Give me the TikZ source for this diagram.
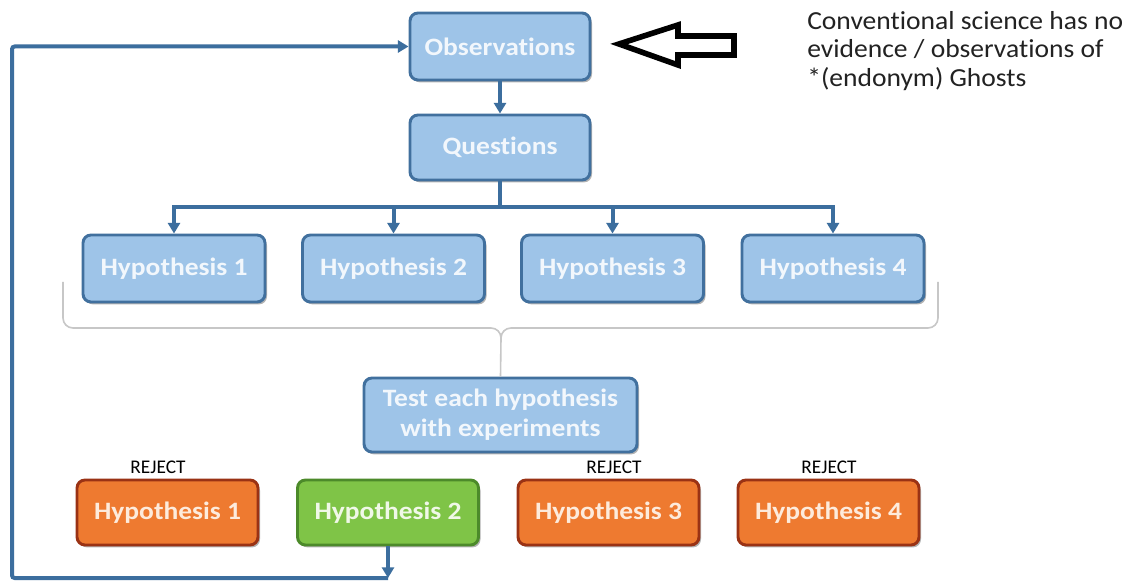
\documentclass[tikz,border=0pt]{standalone}
\usepackage{fontspec}
\setmainfont{Carlito}[Ligatures=NoCommon]
\newfontfamily\boxfont{Carlito}[FakeStretch=1.1,Ligatures=NoCommon]
\newfontfamily\notefont{Carlito}[FakeStretch=1.06,Ligatures=NoCommon]
\usetikzlibrary{arrows.meta,shadows}
\definecolor{boxblue}{HTML}{9EC4E8}
\definecolor{boxblueline}{HTML}{41709E}
\definecolor{boxbluetext}{HTML}{F2F7FC}
\definecolor{boxorange}{HTML}{EE7A30}
\definecolor{boxorangeline}{HTML}{9A3214}
\definecolor{boxorangetext}{HTML}{FDEBDC}
\definecolor{boxgreen}{HTML}{7FC447}
\definecolor{boxgreenline}{HTML}{4C8A2A}
\definecolor{boxgreentext}{HTML}{F0F8E8}
\definecolor{linkblue}{HTML}{3C6E9E}
\definecolor{notegray}{HTML}{222222}
\begin{document}
\begin{tikzpicture}[x=0.75pt,y=-0.75pt,
  box/.style={rounded corners=6pt, line width=2.2pt, inner sep=0pt, align=center,
    font=\boxfont\bfseries\fontsize{18.75}{22.5}\selectfont,
    drop shadow={shadow xshift=1.5pt,shadow yshift=-1.8pt,opacity=0.3,fill=black}},
  bluebox/.style={box, draw=boxblueline, fill=boxblue, text=boxbluetext},
  orangebox/.style={box, draw=boxorangeline, fill=boxorange, text=boxorangetext},
  greenbox/.style={box, draw=boxgreenline, fill=boxgreen, text=boxgreentext},
  hyp/.style={minimum width=136.5pt, minimum height=50.25pt},
  res/.style={minimum width=135.75pt, minimum height=48.75pt},
  rejectlabel/.style={font=\fontsize{14.5}{16}\selectfont, text=black, inner sep=0pt},
  conn/.style={draw=linkblue, line width=3pt},
  tip/.style={-{Triangle[width=9pt,length=8pt]}},
  brace/.style={draw=black!22, line width=1.2pt}
]
\fill[white] (0,0) rectangle (1135,584);
\useasboundingbox (0,0) rectangle (1135,584);

% top row
\node[bluebox, minimum width=135pt, minimum height=50.25pt] (obs) at (500,46.5) {Observations};
\node[bluebox, minimum width=135pt, minimum height=48.75pt] (q) at (500,147.5) {Questions};

% hypotheses
\node[bluebox, hyp] (h1) at (174,268.5) {Hypothesis 1};
\node[bluebox, hyp] (h2) at (393.5,268.5) {Hypothesis 2};
\node[bluebox, hyp] (h3) at (612.5,268.5) {Hypothesis 3};
\node[bluebox, hyp] (h4) at (833,268.5) {Hypothesis 4};

% test
\node[bluebox, minimum width=204.75pt, minimum height=55.5pt] (test) at (500.5,415)
  {Test each hypothesis\\with experiments};

% results
\node[orangebox, res] (r1) at (167.5,512.5) {Hypothesis 1};
\node[greenbox, res] (r2) at (388,512.5) {Hypothesis 2};
\node[orangebox, res] (r3) at (608.5,512.5) {Hypothesis 3};
\node[orangebox, res] (r4) at (828.5,512.5) {Hypothesis 4};

\node[rejectlabel] (rj1) at (158,467) {REJECT};
\node[rejectlabel] (rj3) at (614,467) {REJECT};
\node[rejectlabel] (rj4) at (829,467) {REJECT};

% note
\node[anchor=north west, align=left, inner sep=0pt, text=notegray,
  font=\notefont\fontsize{19.5}{21.4}\selectfont] (note) at (807,11)
  {Conventional science has no\\evidence / observations of\\*(endonym) Ghosts};

% hollow arrow
\draw[line width=4.2pt, line join=miter]
  (619,44) -- (678,25) -- (678,36) -- (734,36) -- (734,55) -- (678,55) -- (678,65) -- cycle;

% connectors
\draw[conn, tip] (obs.south) -- (q.north);
\coordinate (bus) at (500,207);
\draw[conn] (q.south) -- (bus);
\draw[conn, tip] (bus) -| (h1.north);
\draw[conn, tip] (bus) -| (h2.north);
\draw[conn, tip] (bus) -| (h3.north);
\draw[conn, tip] (bus) -| (h4.north);

% brace
\coordinate (bl) at (63,282);
\coordinate (br) at (938,282);
\coordinate (bc) at (501,338);
\draw[brace] (bl) -- (63,318) to[out=-90,in=180] (73,328) -- (491,328) to[out=0,in=90] (bc);
\draw[brace] (br) -- (938,318) to[out=-90,in=0] (928,328) -- (511,328) to[out=180,in=90] (bc);
\draw[brace] (bc) -- (test.north);

% feedback loop
\coordinate (fb) at (388,578);
\coordinate (fbc) at (12,46.5);
\draw[conn, tip] (r2.south) -- (fb);
\draw[conn, tip, rounded corners=2pt] (fb) -| (fbc) -- (obs.west);
\end{tikzpicture}
\end{document}
